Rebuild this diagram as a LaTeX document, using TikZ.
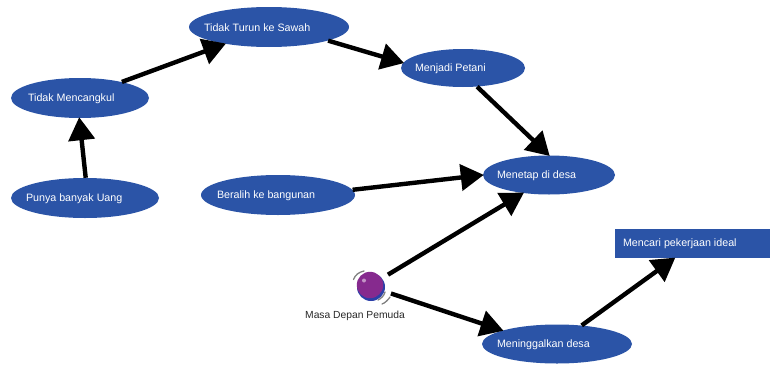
\documentclass[tikz,border=0pt]{standalone}
\usepackage{fontspec}
\setmainfont{Liberation Sans}
\usetikzlibrary{shapes.geometric,arrows.meta}
\definecolor{nodeblue}{HTML}{2B54A7}
\definecolor{ballpurple}{HTML}{862A8E}
\definecolor{ballblue}{HTML}{2B3FA8}
\newcommand{\ltext}[2]{\rlap{\hspace*{#1pt}\raisebox{-1.5pt}{#2}}\vphantom{Ag}}
\tikzset{
  x=1pt,y=-1pt,
  oval/.style={ellipse,fill=nodeblue,text=white,inner sep=0pt,font=\fontsize{10.7}{13}\selectfont},
  boxnode/.style={rectangle,fill=nodeblue,text=white,inner sep=0pt,font=\fontsize{10.7}{13}\selectfont},
  conn/.style={line width=4.4pt,-{Triangle[length=23pt,width=26pt]},shorten >=-1pt},
  swoosh/.style={draw=gray,line width=1.3pt,line cap=round}
}
\begin{document}
\begin{tikzpicture}
\useasboundingbox (0,0) rectangle (770,364);
\node[oval,minimum width=138pt,minimum height=40pt] (cang) at (80,98) {\ltext{-52}{Tidak Mencangkul}};
\node[oval,minimum width=148pt,minimum height=40pt] (uang) at (85,198) {\ltext{-59}{Punya banyak Uang}};
\node[oval,minimum width=160pt,minimum height=40pt] (sawah) at (269,27) {\ltext{-65}{Tidak Turun ke Sawah}};
\node[oval,minimum width=154pt,minimum height=40pt] (bangun) at (278,195) {\ltext{-61}{Beralih ke bangunan}};
\node[oval,minimum width=124pt,minimum height=38pt] (petani) at (463,68) {\ltext{-48}{Menjadi Petani}};
\node[oval,minimum width=132pt,minimum height=39pt] (menetap) at (549,175) {\ltext{-52}{Menetap di desa}};
\node[oval,minimum width=150pt,minimum height=39pt] (tinggal) at (557,344) {\ltext{-60}{Meninggalkan desa}};
\node[boxnode,minimum width=155pt,minimum height=29pt] (kerja) at (692.5,243.5) {\ltext{-69.5}{Mencari pekerjaan ideal}};
% ball
\node[circle,minimum size=28pt,inner sep=0pt,outer sep=7pt] (ball) at (371,287) {};
\fill[ballblue] (371,287) circle[radius=14];
\fill[ballpurple] (370,285) circle[radius=13.2];
\fill[white!50!ballpurple] (364,280.5) circle[radius=2];
\draw[swoosh] (353.5,279.5) .. controls (355,275) and (359,272) .. (364,271);
\draw[swoosh] (378,300) .. controls (381,298.5) and (384,296) .. (385,292);
\draw[swoosh] (382,304) .. controls (385,303) and (388,300) .. (390,297);
\node[inner sep=0pt,font=\fontsize{10.3}{12}\selectfont,text=black!85] (masa) at (355,316) {Masa Depan Pemuda};
% connectors
\draw[conn] (uang.88) -- (cang.268);
\draw[conn] (cang.21) -- (sawah.201);
\draw[conn] (sawah.-13) -- (petani.175);
\draw[conn] (petani.-53) -- (menetap.90);
\draw[conn] (bangun.4) -- (menetap.180);
\draw[conn] (ball.36) -- (menetap.215);
\draw[conn] (ball.-18) -- (tinggal.166);
\draw[conn] (tinggal.37) -- ([xshift=-18pt]kerja.south);
\end{tikzpicture}
\end{document}
